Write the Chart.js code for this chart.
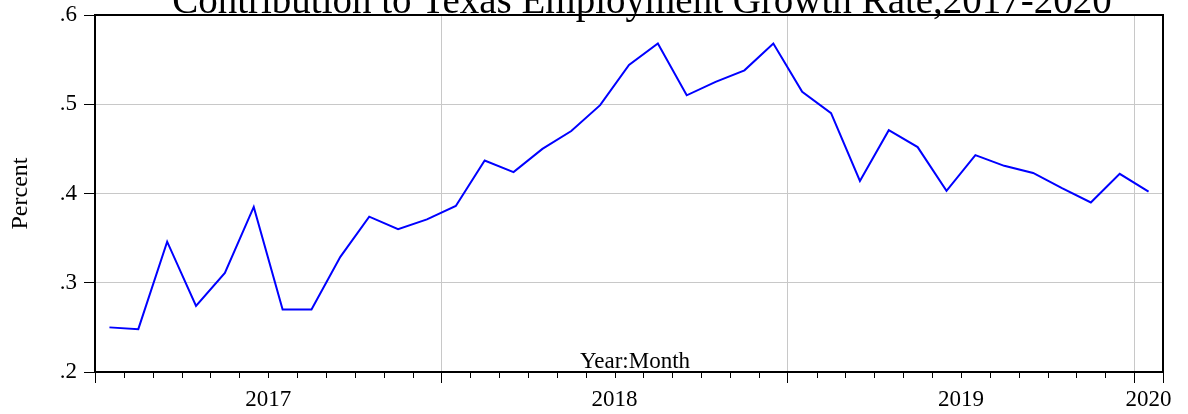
<!DOCTYPE html>
<html>
<head>
<meta charset="utf-8">
<script src="https://cdn.jsdelivr.net/npm/chart.js@4/dist/chart.umd.min.js"></script>
<style>
html,body{margin:0;padding:0;background:#fff;}
#wrap{width:1188px;height:414px;}
</style>
</head>
<body>
<div id="wrap"><canvas id="c" width="1188" height="414"></canvas></div>
<script>
// ---- data ----
const months = [
  '2017M01','2017M02','2017M03','2017M04','2017M05','2017M06','2017M07','2017M08','2017M09','2017M10','2017M11','2017M12',
  '2018M01','2018M02','2018M03','2018M04','2018M05','2018M06','2018M07','2018M08','2018M09','2018M10','2018M11','2018M12',
  '2019M01','2019M02','2019M03','2019M04','2019M05','2019M06','2019M07','2019M08','2019M09','2019M10','2019M11','2019M12',
  '2020M01'
];
const contribution = [
  0.250, 0.248, 0.346, 0.274, 0.311, 0.385, 0.270, 0.270, 0.329, 0.374, 0.360, 0.371,
  0.386, 0.437, 0.424, 0.450, 0.470, 0.499, 0.544, 0.568, 0.510, 0.525, 0.538, 0.568,
  0.514, 0.490, 0.414, 0.471, 0.452, 0.403, 0.443, 0.431, 0.423, 0.406, 0.390, 0.422,
  0.402
];
const yearLabels = ['2017','2018','2019','2020'];
const yTicks = [0.2, 0.3, 0.4, 0.5, 0.6];
const titleText = 'Contribution to Texas Employment Growth Rate,2017-2020';
const xAxisTitle = 'Year:Month';
const yAxisTitle = 'Percent';

// ---- derived ----
const points = contribution.map((v, i) => ({x: i + 0.5, y: v}));
const nMonths = months.length;
// year label positions: middle of each year's span on the month axis
const yearLabelPos = {};
yearLabels.forEach((yl, k) => {
  const start = k * 12;
  const end = Math.min(start + 12, nMonths);
  yearLabelPos[(start + end) / 2] = yl;
});

const SERIF = '"Liberation Serif","Times New Roman",serif';

const frame = {
  id: 'frame',
  afterDatasetsDraw(chart) {
    const {ctx, chartArea: a} = chart;
    const xs = chart.scales.x;
    ctx.save();
    ctx.strokeStyle = '#000';
    ctx.lineWidth = 2;
    ctx.strokeRect(a.left, a.top, a.right - a.left, a.bottom - a.top);
    // minor month ticks
    ctx.lineWidth = 1;
    for (let m = 1; m < nMonths; m++) {
      if (m % 12 === 0) continue;
      const px = Math.round(xs.getPixelForValue(m)) + 0.5;
      ctx.beginPath();
      ctx.moveTo(px, a.bottom);
      ctx.lineTo(px, a.bottom + 6);
      ctx.stroke();
    }
    // x-axis title inside plot
    ctx.fillStyle = '#000';
    ctx.font = '23px ' + SERIF;
    ctx.textAlign = 'center';
    ctx.textBaseline = 'alphabetic';
    ctx.fillText(xAxisTitle, (a.left + a.right) / 2 + 6, a.bottom - 4);
    // main title (clipped at top)
    ctx.font = '39px ' + SERIF;
    ctx.fillText(titleText, (a.left + a.right) / 2 + 13, a.top - 2);
    ctx.restore();
  }
};

new Chart(document.getElementById('c'), {
  type: 'line',
  data: {
    datasets: [{
      data: points,
      borderColor: '#0000ff',
      borderWidth: 2,
      pointRadius: 0,
      tension: 0,
      fill: false
    }]
  },
  options: {
    responsive: false,
    devicePixelRatio: 1,
    animation: false,
    layout: {padding: {top: 15, right: 25, left: 0, bottom: 0}},
    plugins: {legend: {display: false}, tooltip: {enabled: false}, title: {display: false}},
    scales: {
      x: {
        type: 'linear',
        min: 0,
        max: nMonths,
        afterBuildTicks(scale) {
          const t = [];
          for (let m = 0; m <= nMonths; m++) t.push({value: m});
          Object.keys(yearLabelPos).map(Number).forEach(v => {
            if (!t.some(o => o.value === v)) t.push({value: v});
          });
          t.sort((a, b) => a.value - b.value);
          scale.ticks = t;
        },
        afterFit(scale) {
          scale.height = 42;
          scale.paddingLeft = 0;
          scale.paddingRight = 0;
        },
        border: {display: false},
        grid: {
          drawOnChartArea: true,
          color: (c) => {
            const v = c.tick ? c.tick.value : null;
            return (v !== null && v > 0 && v < nMonths && Number.isInteger(v) && v % 12 === 0) ? '#c8c8c8' : 'rgba(0,0,0,0)';
          },
          lineWidth: 1,
          tickLength: 11,
          tickColor: (c) => {
            const v = c.tick ? c.tick.value : null;
            return (v !== null && Number.isInteger(v) && (v % 12 === 0 || v === nMonths)) ? '#000' : 'rgba(0,0,0,0)';
          }
        },
        ticks: {
          autoSkip: false,
          maxRotation: 0,
          minRotation: 0,
          padding: 3,
          color: '#000',
          font: {family: SERIF, size: 23},
          callback: (v) => yearLabelPos[v] || ''
        }
      },
      y: {
        min: 0.2,
        max: 0.6,
        afterBuildTicks(scale) {
          scale.ticks = yTicks.map(v => ({value: v}));
        },
        afterFit(scale) {
          scale.width = 95;
          scale.paddingTop = 0;
          scale.paddingBottom = 0;
        },
        border: {display: false},
        grid: {
          color: (c) => {
            const v = c.tick ? Math.round(c.tick.value * 10) : 0;
            return (v > 2 && v < 6) ? '#c8c8c8' : 'rgba(0,0,0,0)';
          },
          lineWidth: 1,
          tickLength: 11,
          tickColor: '#000'
        },
        ticks: {
          padding: 7,
          color: '#000',
          font: {family: SERIF, size: 23},
          callback: (v) => Number(v).toFixed(1).replace(/^0/, '')
        },
        title: {
          display: true,
          text: yAxisTitle,
          color: '#000',
          font: {family: SERIF, size: 24},
          padding: {top: 6, bottom: 0}
        }
      }
    }
  },
  plugins: [frame]
});
</script>
</body>
</html>
